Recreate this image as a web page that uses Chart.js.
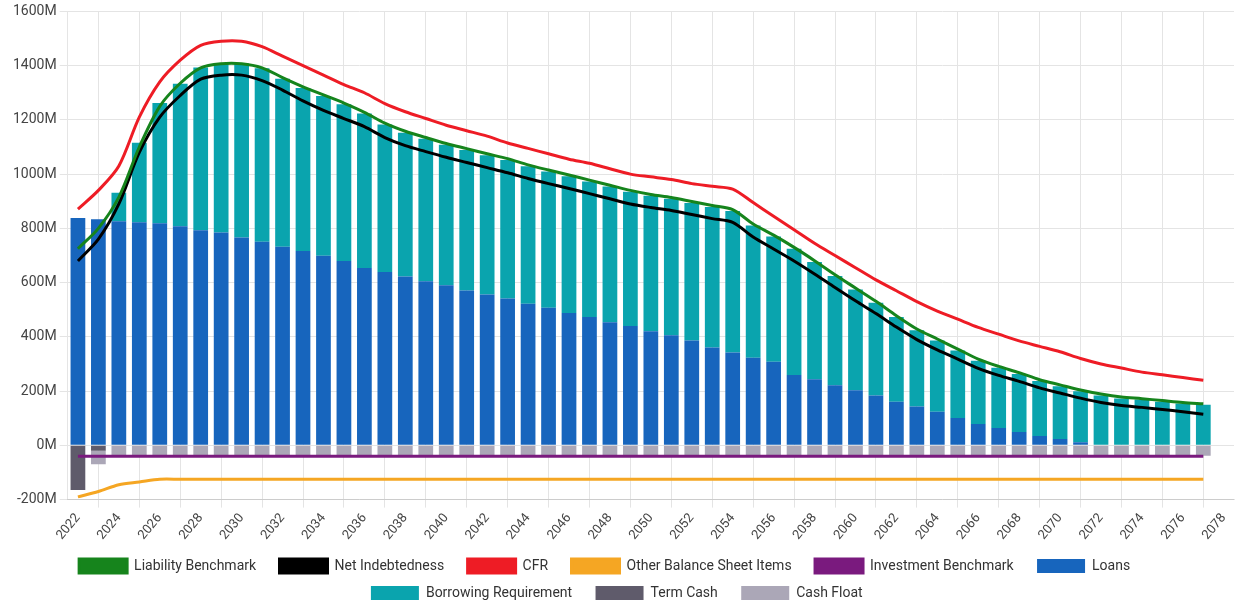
<!DOCTYPE html>
<html>
<head>
<meta charset="utf-8">
<script src="https://cdn.jsdelivr.net/npm/chart.js@4"></script>
<style>
  body { margin: 0; background: #fff; }
  .chart { width: 1242px; height: 612px; }
</style>
</head>
<body>
<div class="chart"><canvas id="c"></canvas></div>
<script>
const years = [];
for (let y = 2022; y <= 2078; y++) years.push(String(y));

// values in millions, 2022..2077 (2078 has no data)
const loans = [838, 834, 826, 823, 819, 808, 793, 785, 766, 751, 732, 717, 699, 680, 654, 639, 623, 605, 590, 571,
  556, 541, 522, 507, 488, 473, 454, 440, 421, 406, 387, 361, 342, 323, 308, 259, 244, 222, 203, 184,
  161, 143, 124, 101, 79, 64, 49, 34, 23, 11, 0, 0, 0, 0, 0, 0];
const barTotal = [838, 834, 931, 1116, 1262, 1333, 1393, 1408, 1408, 1390, 1352, 1318, 1288, 1258, 1224, 1183, 1153, 1130, 1108, 1089,
  1070, 1052, 1029, 1010, 992, 973, 954, 935, 920, 909, 894, 879, 864, 811, 770, 725, 676, 624, 575, 526,
  473, 424, 387, 350, 312, 286, 263, 237, 218, 199, 184, 173, 169, 161, 154, 150];
const borrowing = barTotal.map((t, i) => t - loans[i]);
const termCash = [-165, -20];
const cashFloat = [0, -50, -38, -38, -38, -38, -38, -38, -38, -38, -38, -38, -38, -38, -38, -38, -38, -38, -38, -38,
  -38, -38, -38, -38, -38, -38, -38, -38, -38, -38, -38, -38, -38, -38, -38, -38, -38, -38, -38, -38,
  -38, -38, -38, -38, -38, -38, -38, -38, -38, -38, -38, -38, -38, -38, -38, -38];
const liability = [725, 800, 915, 1100, 1250, 1335, 1392, 1407, 1407, 1392, 1356, 1322, 1292, 1262, 1228, 1188, 1158, 1135, 1113, 1094,
  1075, 1057, 1034, 1015, 997, 978, 959, 940, 925, 914, 899, 884, 869, 816, 775, 730, 681, 629, 580, 531,
  478, 429, 392, 355, 318, 291, 268, 242, 223, 204, 189, 178, 172, 165, 158, 153];
const netIndebtedness = [680, 760, 890, 1080, 1210, 1290, 1350, 1365, 1365, 1345, 1310, 1270, 1235, 1205, 1175, 1135, 1105, 1083, 1062, 1043,
  1024, 1005, 984, 965, 947, 928, 909, 890, 877, 866, 851, 836, 822, 768, 724, 680, 632, 582, 533, 486,
  436, 390, 352, 318, 284, 258, 236, 212, 193, 174, 158, 147, 140, 132, 124, 115];
const cfr = [871, 940, 1030, 1210, 1340, 1420, 1475, 1490, 1490, 1470, 1435, 1400, 1365, 1330, 1300, 1260, 1230, 1205, 1180, 1160,
  1140, 1115, 1095, 1075, 1055, 1040, 1020, 1000, 990, 980, 965, 955, 945, 895, 845, 795, 745, 700, 655, 610,
  570, 530, 495, 465, 435, 410, 385, 365, 345, 320, 300, 285, 270, 260, 250, 240];
const otherItems = [-190, -170, -145, -135, -125, -125, -125, -125, -125, -125, -125, -125, -125, -125, -125, -125, -125, -125, -125, -125,
  -125, -125, -125, -125, -125, -125, -125, -125, -125, -125, -125, -125, -125, -125, -125, -125, -125, -125, -125, -125,
  -125, -125, -125, -125, -125, -125, -125, -125, -125, -125, -125, -125, -125, -125, -125, -125];
const investment = otherItems.map(() => -40);

const line = (label, data, color, stack) => ({
  type: 'line', label, data, stack, order: 0,
  borderColor: color, backgroundColor: color,
  borderWidth: 3, pointRadius: 0, tension: 0.3, fill: false,
});
const bar = (label, data, color) => ({
  type: 'bar', label, data, stack: 'bars', order: 1,
  backgroundColor: color, categoryPercentage: 0.8, barPercentage: 0.9,
});

new Chart(document.getElementById('c'), {
  data: {
    labels: years,
    datasets: [
      line('Liability Benchmark', liability, '#16841c', 'l1'),
      line('Net Indebtedness', netIndebtedness, '#000000', 'l2'),
      line('CFR', cfr, '#ee1c25', 'l3'),
      line('Other Balance Sheet Items', otherItems, '#f5a623', 'l4'),
      line('Investment Benchmark', investment, '#7a1a7e', 'l5'),
      bar('Loans', loans, '#1765bd'),
      bar('Borrowing Requirement', borrowing, '#0aa4ae'),
      bar('Term Cash', termCash, '#5f5b6b'),
      bar('Cash Float', cashFloat, '#aba7b7'),
    ],
  },
  options: {
    animation: false,
    maintainAspectRatio: false,
    layout: { padding: { left: 10, right: 8, top: 10, bottom: 2 } },
    scales: {
      x: {
        stacked: true,
        ticks: { maxRotation: 50, minRotation: 50, autoSkip: false,
          callback: (v, i) => (i % 2 === 0 ? years[i] : null),
          font: { family: 'Roboto', size: 13 }, color: '#444' },
        grid: { color: '#e4e4e4' },
      },
      y: {
        stacked: true, min: -200, max: 1600,
        ticks: { stepSize: 200, callback: (v) => v + 'M',
          font: { family: 'Roboto', size: 14 }, color: '#444' },
        grid: { color: '#e4e4e4' },
      },
    },
    plugins: {
      legend: { position: 'bottom',
        labels: { boxWidth: 48, boxHeight: 14, padding: 13,
          font: { family: 'Roboto', size: 14 }, color: '#333',
          generateLabels: (chart) => Chart.defaults.plugins.legend.labels.generateLabels(chart)
            .map((l, i) => ({ ...l, text: l.text + (i === 5 ? '          ' : '   ') })) } },
      tooltip: { enabled: false },
    },
  },
});
</script>
</body>
</html>
